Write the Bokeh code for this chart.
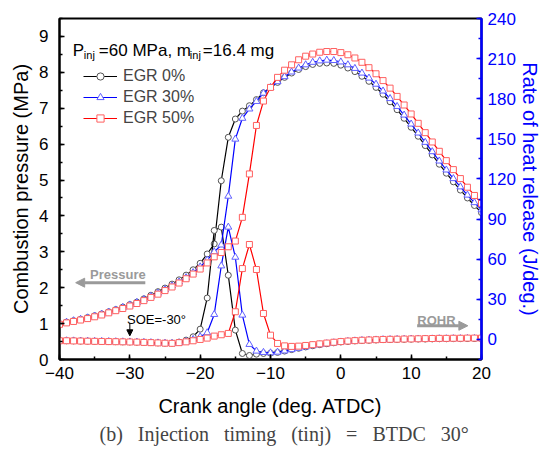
from bokeh.plotting import figure
from bokeh.models import (Range1d, LinearAxis, SingleIntervalTicker, Legend, LegendItem,
                          Label, Arrow, NormalHead, Title)
from bokeh.embed import file_html
from bokeh.resources import INLINE

# ---------------- data ----------------
crank = [-40, -39, -38, -37, -36, -35, -34, -33, -32, -31,
         -30, -29, -28, -27, -26, -25, -24, -23, -22, -21,
         -20, -19, -18, -17, -16, -15, -14, -13, -12, -11,
         -10, -9, -8, -7, -6, -5, -4, -3, -2, -1,
         0, 1, 2, 3, 4, 5, 6, 7, 8, 9,
         10, 11, 12, 13, 14, 15, 16, 17, 18, 19, 20]

# combustion pressure (MPa)
p_egr0 = [1.00, 1.04, 1.08, 1.12, 1.17, 1.22, 1.27, 1.33, 1.39, 1.46,
          1.53, 1.60, 1.69, 1.79, 1.89, 1.99, 2.10, 2.22, 2.35, 2.50,
          2.68, 2.94, 3.22, 4.98, 6.19, 6.70, 6.92, 7.07, 7.24, 7.43,
          7.58, 7.72, 7.86, 7.98, 8.08, 8.16, 8.22, 8.25, 8.26, 8.25,
          8.20, 8.12, 8.02, 7.89, 7.75, 7.58, 7.39, 7.18, 6.96, 6.72,
          6.47, 6.22, 5.96, 5.70, 5.44, 5.19, 4.95, 4.72, 4.50, 4.29, 4.09]
p_egr30 = [1.00, 1.04, 1.08, 1.12, 1.16, 1.21, 1.26, 1.32, 1.38, 1.45,
           1.52, 1.59, 1.67, 1.76, 1.85, 1.95, 2.05, 2.16, 2.28, 2.42,
           2.58, 2.77, 3.00, 3.19, 4.55, 6.14, 6.72, 6.98, 7.19, 7.42,
           7.58, 7.74, 7.88, 8.01, 8.12, 8.21, 8.28, 8.32, 8.34, 8.33,
           8.29, 8.21, 8.11, 7.98, 7.84, 7.67, 7.48, 7.27, 7.05, 6.81,
           6.56, 6.31, 6.05, 5.79, 5.53, 5.28, 5.04, 4.81, 4.58, 4.37, 4.17]
p_egr50 = [0.98, 1.02, 1.06, 1.10, 1.14, 1.19, 1.24, 1.30, 1.36, 1.42,
           1.49, 1.56, 1.64, 1.73, 1.82, 1.92, 2.02, 2.13, 2.25, 2.38,
           2.52, 2.69, 2.86, 2.98, 3.14, 3.30, 3.96, 5.17, 6.52, 7.20,
           7.58, 7.86, 8.06, 8.21, 8.35, 8.45, 8.51, 8.56, 8.58, 8.58,
           8.55, 8.49, 8.40, 8.28, 8.13, 7.96, 7.77, 7.56, 7.33, 7.09,
           6.84, 6.58, 6.32, 6.06, 5.80, 5.54, 5.29, 5.04, 4.80, 4.57, 4.35]

# rate of heat release (J/deg.)
r_egr0 = [-1.0, -1.0, -1.1, -1.2, -1.3, -1.4, -1.5, -1.6, -1.7, -1.8,
          -1.9, -2.0, -2.2, -2.4, -2.6, -2.8, -2.7, -2.0, -0.5, 2.0,
          7.7, 31.0, 81.5, 84.0, 48.0, 7.0, -10.5, -12.0, -11.0, -10.5,
          -10.3, -9.7, -8.7, -7.6, -6.6, -5.6, -4.7, -3.9, -3.2, -2.5,
          -1.9, -1.5, -1.1, -0.8, -0.6, -0.4, -0.2, -0.1, 0.0, 0.1,
          0.2, 0.3, 0.3, 0.4, 0.5, 0.5, 0.6, 0.6, 0.7, 0.7, 0.7]
r_egr30 = [-1.0, -1.0, -1.1, -1.2, -1.3, -1.4, -1.5, -1.6, -1.7, -1.8,
           -1.9, -2.0, -2.2, -2.4, -2.6, -2.8, -2.9, -2.6, -1.6, 0.0,
           2.0, 5.0, 18.7, 55.0, 84.0, 61.5, 18.2, -3.7, -8.7, -9.7,
           -10.0, -9.5, -8.6, -7.6, -6.6, -5.6, -4.7, -3.9, -3.2, -2.5,
           -1.9, -1.5, -1.1, -0.8, -0.6, -0.4, -0.2, -0.1, 0.0, 0.1,
           0.2, 0.3, 0.3, 0.4, 0.5, 0.5, 0.6, 0.6, 0.7, 0.7, 0.7]
r_egr50 = [-1.0, -1.0, -1.1, -1.2, -1.3, -1.4, -1.5, -1.6, -1.7, -1.8,
           -1.9, -2.0, -2.2, -2.4, -2.6, -2.8, -2.9, -2.4, -1.8, -1.0,
           0.0, 1.0, 2.5, 3.5, 4.5, 20.7, 53.0, 71.0, 52.3, 19.4,
           3.2, -3.0, -4.8, -5.2, -5.0, -4.5, -3.9, -3.3, -2.7, -2.1,
           -1.6, -1.2, -0.9, -0.6, -0.4, -0.2, 0.0, 0.1, 0.2, 0.3,
           0.4, 0.5, 0.6, 0.7, 0.8, 0.8, 0.9, 0.9, 1.0, 1.0, 1.0]

series_labels = ["EGR 0%", "EGR 30%", "EGR 50%"]

FONT = "Liberation Sans"
BLUE = "#0000ff"

# ---------------- figure ----------------
p = figure(frame_width=422, frame_height=341, output_backend="svg", toolbar_location=None,
           x_range=Range1d(-40, 20), y_range=Range1d(0, 9.5),
           min_border_left=59, min_border_top=18, min_border_right=5, min_border_bottom=10)
p.extra_y_ranges = {"rohr": Range1d(-15, 240)}
p.xgrid.visible = False
p.ygrid.visible = False
p.outline_line_color = "black"
p.outline_line_width = 2
p.background_fill_color = "white"
p.border_fill_color = "white"

xa = p.xaxis[0]
ya = p.yaxis[0]
xa.ticker = SingleIntervalTicker(interval=10, num_minor_ticks=2)
ya.ticker = SingleIntervalTicker(interval=1, num_minor_ticks=2)
xa.axis_label = "Crank angle (deg. ATDC)"
ya.axis_label = "Combustion pressure (MPa)"

ax2 = LinearAxis(y_range_name="rohr",
                 ticker=SingleIntervalTicker(interval=30, num_minor_ticks=2),
                 axis_label="Rate of heat release (J/deg.)")
p.add_layout(ax2, "right")

for ax, col in [(xa, "black"), (ya, "black"), (ax2, BLUE)]:
    ax.major_tick_in = 5
    ax.major_tick_out = 0
    ax.minor_tick_in = 3
    ax.minor_tick_out = 0
    ax.axis_line_width = 2
    ax.major_tick_line_width = 1.5
    ax.minor_tick_line_width = 1.5
    ax.axis_line_color = col
    ax.major_tick_line_color = col
    ax.minor_tick_line_color = col
    ax.major_label_text_color = col
    ax.axis_label_text_color = col
    ax.major_label_text_font = FONT
    ax.major_label_text_font_size = "17px"
    ax.axis_label_text_font = FONT
    ax.axis_label_text_font_size = "20px"
    ax.axis_label_text_font_style = "normal"

xa.major_label_standoff = 7
xa.axis_label_standoff = 13
ya.major_label_standoff = 11
ya.axis_label_standoff = 4
ax2.major_label_standoff = 6
ax2.axis_label_standoff = 0
ax2.axis_line_width = 2.5

# ---------------- series ----------------
styles = [
    ("black", "circle", "#555555", 6),
    (BLUE, "triangle", "#6060ff", 7),
    ("#ff0000", "square", "#ff6060", 6),
]
press = [p_egr0, p_egr30, p_egr50]
rohr = [r_egr0, r_egr30, r_egr50]

items = []
for (lc, mk, mc, ms), pv, rv, lab in zip(styles, press, rohr, series_labels):
    l1 = p.line(crank, pv, line_color=lc, line_width=1.2)
    s1 = p.scatter(crank, pv, marker=mk, size=ms, line_color=mc, fill_color="white", line_width=1)
    p.line(crank, rv, line_color=lc, line_width=1.2, y_range_name="rohr")
    p.scatter(crank, rv, marker=mk, size=ms, line_color=mc, fill_color="white", line_width=1,
              y_range_name="rohr")
    items.append(LegendItem(label=lab, renderers=[l1, s1]))

legend = Legend(items=items, location=(24, 232), border_line_color=None,
                background_fill_alpha=0, label_text_font=FONT, label_text_font_size="16px",
                glyph_width=34, glyph_height=18, label_height=18, spacing=3, padding=0,
                margin=0, label_standoff=6)
p.add_layout(legend)

# ---------------- annotations ----------------
def lab(x, y, text, size, xo=0, yo=0, color="black", style="normal", align="left"):
    p.add_layout(Label(x=x, y=y, text=text, x_offset=xo, y_offset=yo, text_font=FONT,
                       text_font_size=size, text_color=color, text_font_style=style,
                       text_align=align, text_baseline="alphabetic"))

lab(-38.1, 8.62, "P", "17px", 0)
lab(-38.1, 8.62, "inj", "11px", 11, -5)
lab(-38.1, 8.62, "=60 MPa, m", "17px", 26)
lab(-38.1, 8.62, "inj", "11px", 117, -5)
lab(-38.1, 8.62, "=16.4 mg", "17px", 130)

GRAY = "#9a9a9a"
lab(-31.7, 2.37, "Pressure", "13px", color=GRAY, style="bold", align="center")
p.add_layout(Arrow(end=NormalHead(size=9, fill_color=GRAY, line_color=GRAY),
                   x_start=-27.8, y_start=2.14, x_end=-37.7, y_end=2.14,
                   line_color=GRAY, line_width=3))
lab(13.6, 1.10, "ROHR", "13px", color=GRAY, style="bold", align="center")
p.add_layout(Arrow(end=NormalHead(size=9, fill_color=GRAY, line_color=GRAY),
                   x_start=10.85, y_start=0.94, x_end=18.06, y_end=0.94,
                   line_color=GRAY, line_width=3))
lab(-30.4, 1.12, "SOE=-30°", "13px")
p.add_layout(Arrow(end=NormalHead(size=6, fill_color="black", line_color="black"),
                   x_start=-30, y_start=1.02, x_end=-30, y_end=0.66,
                   line_color="black", line_width=1))

cap = Title(text="(b)\u00a0\u00a0\u00a0Injection\u00a0\u00a0\u00a0timing\u00a0\u00a0\u00a0(tinj)\u00a0\u00a0\u00a0=\u00a0\u00a0\u00a0BTDC\u00a0\u00a0\u00a030°",
            align="left", text_font="Liberation Serif", text_font_size="20px",
            text_font_style="normal", offset=40, standoff=3)
p.add_layout(cap, "below")

open("out.html", "w").write(file_html(p, INLINE))
